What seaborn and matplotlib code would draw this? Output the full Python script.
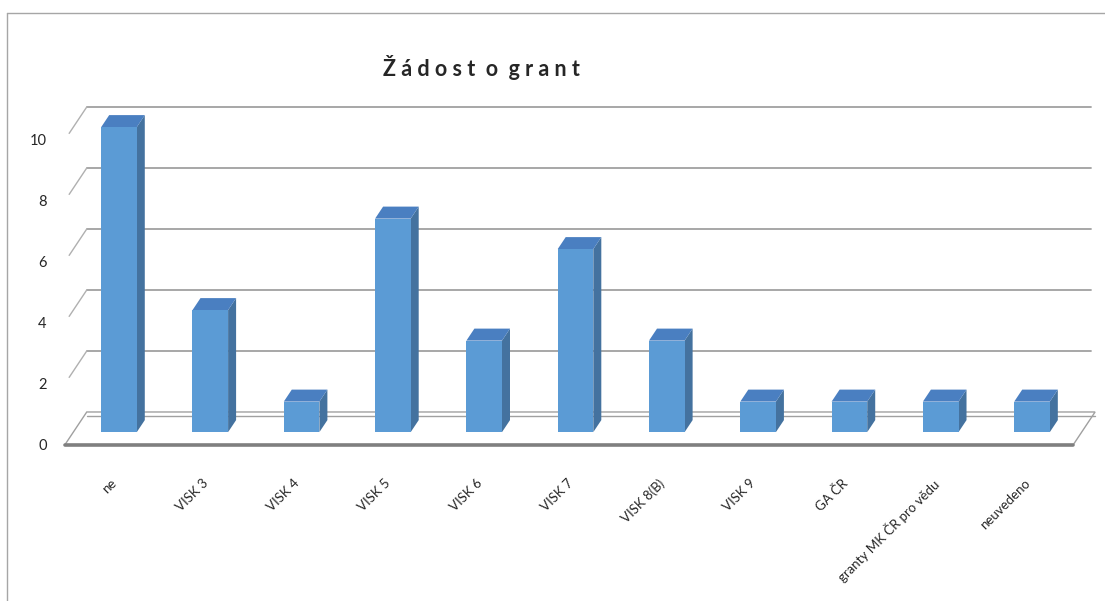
import numpy as np
import pandas as pd
import seaborn as sns
import matplotlib.pyplot as plt
from matplotlib.patches import Polygon
from matplotlib.lines import Line2D
from matplotlib.transforms import IdentityTransform

#* data
categories = ["ne", "VISK 3", "VISK 4", "VISK 5", "VISK 6", "VISK 7",
              "VISK 8(B)", "VISK 9", "GA ČR", "granty MK ČR pro vědu", "neuvedeno"]
values = [10, 4, 1, 7, 3, 6, 3, 1, 1, 1, 1]
y_ticks = [0, 2, 4, 6, 8, 10]
title = "Ž á d o s t  o  g r a n t"

sns.set_style("white")
plt.rcParams['font.family'] = ['Lato', 'DejaVu Sans']

DPI = 100
fig = plt.figure(figsize=(11.05, 6.01), dpi=DPI)
ax = fig.add_axes([0.0586, 0.2596, 0.9089, 0.5075])
ax.set_facecolor("none")

df = pd.DataFrame({"cat": categories, "val": values})
sns.barplot(data=df, x="cat", y="val", ax=ax, color="#5b9bd5",
            saturation=1, width=0.39, zorder=5)

ax.set_xlim(-0.5, len(categories) - 0.5)
ax.set_ylim(0, 10)
ax.set_yticks(y_ticks)
ax.set_xlabel("")
ax.set_ylabel("")
for s in ax.spines.values():
    s.set_visible(False)
ax.tick_params(axis="both", length=0, labelsize=10.5)
ax.tick_params(axis="y", pad=13)
ax.tick_params(axis="x", pad=23, labelsize=9.5)
plt.setp(ax.get_xticklabels(), rotation=45, ha="right", rotation_mode="anchor")

# depth vectors in pixels (x right, y up)
D = np.array([22.0, 33.0])      # whole floor depth
bar_off = 0.39 * D              # bars sit inside the depth
bar_depth = np.array([8.0, 12.0])

to_px = ax.transData.transform
grid_col = "#a0a0a0"
ident = IdentityTransform()

x0, x1 = ax.get_xlim()

# back wall gridlines + short diagonals on the left
for v in y_ticks[1:]:
    fl = to_px((x0, v))
    fr = to_px((x1, v))
    ax.add_line(Line2D([fl[0] + D[0], fr[0] + D[0]], [fl[1] + D[1], fr[1] + D[1]],
                       transform=ident, color=grid_col, lw=1.3, zorder=1, clip_on=False))
    a = fl + 0.2 * D
    b = fl + D
    ax.add_line(Line2D([a[0], b[0]], [a[1], b[1]], transform=ident,
                       color="#b0b0b0", lw=1.0, zorder=1, clip_on=False))

# floor
fl = to_px((x0, 0))
fr = to_px((x1, 0)) + np.array([4, 0])
floor = [fl, fr, fr + D, fl + D]
ax.add_patch(Polygon(floor, closed=True, transform=ident, facecolor="white",
                     edgecolor="#a0a0a0", lw=1.0, zorder=1, clip_on=False))
ax.add_line(Line2D([fl[0] + D[0], fr[0] + D[0]], [fl[1] + D[1] - 4, fr[1] + D[1] - 4],
                   transform=ident, color="#a0a0a0", lw=1.0, zorder=1, clip_on=False))
ax.add_line(Line2D([fl[0], fr[0]], [fl[1], fr[1]], transform=ident,
                   color="#7f7f7f", lw=2.6, zorder=2, clip_on=False))

# 3D bars: shift the front faces and add top and side faces
for p in ax.patches[:]:
    if not hasattr(p, "get_height") or p.get_height() <= 0:
        continue
    xl, xr = p.get_x(), p.get_x() + p.get_width()
    h = p.get_height()
    bl = to_px((xl, 0)) + bar_off
    br = to_px((xr, 0)) + bar_off
    tl = to_px((xl, h)) + bar_off
    tr = to_px((xr, h)) + bar_off
    ax.add_patch(Polygon([bl, br, tr, tl], closed=True, transform=ident,
                         facecolor="#5b9bd5", edgecolor="none", zorder=6, clip_on=False))
    ax.add_patch(Polygon([br, tr, tr + bar_depth, br + bar_depth], closed=True,
                         transform=ident, facecolor="#44729f", edgecolor="none",
                         zorder=5, clip_on=False))
    ax.add_patch(Polygon([tl, tr, tr + bar_depth, tl + bar_depth], closed=True,
                         transform=ident, facecolor="#4a7fc1", edgecolor="none",
                         zorder=5, clip_on=False))
    p.set_visible(False)

# title
fig.text(481 / 1105, 1 - 68 / 601, title, ha="center", va="center",
         fontsize=15.5, fontweight="bold")

# chart border (cropped)
fig.add_artist(Line2D([7 / 1105, 7 / 1105], [0, 1 - 13 / 601], color="#a6a6a6", lw=1.0))
fig.add_artist(Line2D([7 / 1105, 1], [1 - 13 / 601, 1 - 13 / 601], color="#a6a6a6", lw=1.0))

fig.savefig("out.png", dpi=DPI)
